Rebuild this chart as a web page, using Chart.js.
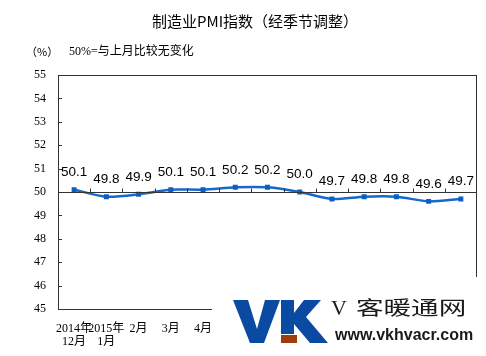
<!DOCTYPE html>
<html>
<head>
<meta charset="utf-8">
<script src="https://cdn.jsdelivr.net/npm/chart.js@4/dist/chart.umd.min.js"></script>
<style>
html,body{margin:0;padding:0;background:#fff;}
#wrap{width:486px;height:356px;}
</style>
</head>
<body>
<div id="wrap"><canvas id="c" width="486" height="356"></canvas></div>
<script>
const titleText = '制造业PMI指数（经季节调整）';
const unitText = '（%）';
const noteText = '50%=与上月比较无变化';
const categories = [['2014年','12月'],['2015年','1月'],'2月','3月','4月','5月','6月','7月','8月','9月','10月','11月','12月'];
const pmiValues = [50.1, 49.8, 49.9, 50.1, 50.1, 50.2, 50.2, 50.0, 49.7, 49.8, 49.8, 49.6, 49.7];
const yTicks = [45,46,47,48,49,50,51,52,53,54,55];
const baseline = 50;

const CJK = '"Noto Sans CJK SC"';
const overlay = {
  id: 'overlay',
  afterDraw(chart) {
    const ctx = chart.ctx;
    const a = chart.chartArea;
    const x = chart.scales.x, y = chart.scales.y;
    ctx.save();
    // box
    ctx.strokeStyle = '#333';
    ctx.lineWidth = 1;
    ctx.strokeRect(Math.round(a.left)+0.5, Math.round(a.top)+0.5, Math.round(a.right-a.left)-1, Math.round(a.bottom-a.top));
    // y inner ticks
    ctx.beginPath();
    yTicks.forEach(v => {
      const py = Math.round(y.getPixelForValue(v)) + 0.5;
      ctx.moveTo(a.left, py); ctx.lineTo(a.left + 4, py);
    });
    // baseline at 50
    const by = Math.round(y.getPixelForValue(baseline)) + 0.5;
    ctx.moveTo(a.left, by); ctx.lineTo(a.right, by);
    // x ticks between categories, pointing up
    for (let i = 1; i < categories.length; i++) {
      const px = Math.round((x.getPixelForValue(i-1) + x.getPixelForValue(i)) / 2) + 0.5;
      ctx.moveTo(px, by); ctx.lineTo(px, by - 4);
    }
    ctx.stroke();
    // data labels
    ctx.fillStyle = '#000';
    ctx.font = '13.5px "Liberation Sans", Arial, sans-serif';
    ctx.textAlign = 'center';
    ctx.textBaseline = 'middle';
    const meta = chart.getDatasetMeta(0);
    meta.data.forEach((pt, i) => {
      ctx.fillText(pmiValues[i].toFixed(1), pt.x, pt.y - 17.5);
    });
    // title
    ctx.font = '15px ' + CJK;
    ctx.fillText(titleText, 255, 21);
    ctx.font = '11px ' + CJK;
    ctx.textAlign = 'left';
    ctx.fillText(unitText, 26, 52);
    ctx.font = '12px "Liberation Serif", ' + CJK;
    ctx.fillText(noteText, 69, 52);
    // watermark
    ctx.fillStyle = '#fff';
    ctx.fillRect(212, 277, 274, 79);
    ctx.fillStyle = '#0b4aa2';
    ctx.beginPath();
    ctx.moveTo(233,300); ctx.lineTo(248,300); ctx.lineTo(257,329); ctx.lineTo(265,300);
    ctx.lineTo(280,300); ctx.lineTo(264,343); ctx.lineTo(250,343); ctx.closePath();
    ctx.fill();
    ctx.fillRect(281,300,13,34);
    ctx.beginPath();
    ctx.moveTo(294,313); ctx.lineTo(304,300); ctx.lineTo(321,300); ctx.lineTo(306,317);
    ctx.lineTo(328,343); ctx.lineTo(310,343); ctx.lineTo(294,324); ctx.closePath();
    ctx.fill();
    ctx.fillStyle = '#9c3d0a';
    ctx.fillRect(281,335,16,8);
    ctx.fillStyle = '#1a1a1a';
    ctx.textBaseline = 'alphabetic';
    ctx.font = '22px "Liberation Serif", serif';
    ctx.fillText('V', 331, 315);
    ctx.save();
    ctx.translate(356, 315);
    ctx.scale(1.45, 1);
    ctx.font = '19px ' + CJK;
    ctx.fillText('客暖通网', 0, 0, 82);
    ctx.restore();
    ctx.font = 'bold 16px "Liberation Sans", Arial, sans-serif';
    ctx.fillText('www.vkhvacr.com', 335, 340, 141);
    ctx.restore();
  }
};

new Chart(document.getElementById('c'), {
  type: 'line',
  data: {
    labels: categories,
    datasets: [{
      data: pmiValues,
      borderColor: '#1668cc',
      backgroundColor: '#0a5fc4',
      borderWidth: 2.5,
      tension: 0.25,
      pointStyle: 'rect',
      pointRadius: 3.5,
      pointBorderWidth: 0,
      pointHoverRadius: 3.5
    }]
  },
  options: {
    responsive: false,
    devicePixelRatio: 1,
    animation: false,
    events: [],
    layout: { padding: { top: 75, right: 1, left: 0, bottom: 0 } },
    plugins: { legend: { display: false }, title: { display: false }, tooltip: { enabled: false } },
    scales: {
      x: {
        type: 'category',
        offset: true,
        grid: { display: false, drawTicks: false },
        border: { display: false },
        ticks: {
          autoSkip: false, maxRotation: 0, minRotation: 0,
          color: '#000', padding: 13,
          font: { family: '"Liberation Serif", ' + CJK, size: 12, lineHeight: 1.1 }
        },
        afterFit(s) { s.height = 47; }
      },
      y: {
        min: 45, max: 55,
        grid: { display: false, drawTicks: false },
        border: { display: false },
        ticks: {
          stepSize: 1, color: '#000', padding: 12,
          font: { family: '"Liberation Serif", serif', size: 12 }
        },
        afterFit(s) { s.width = 58; }
      }
    }
  },
  plugins: [overlay]
});
</script>
</body>
</html>
